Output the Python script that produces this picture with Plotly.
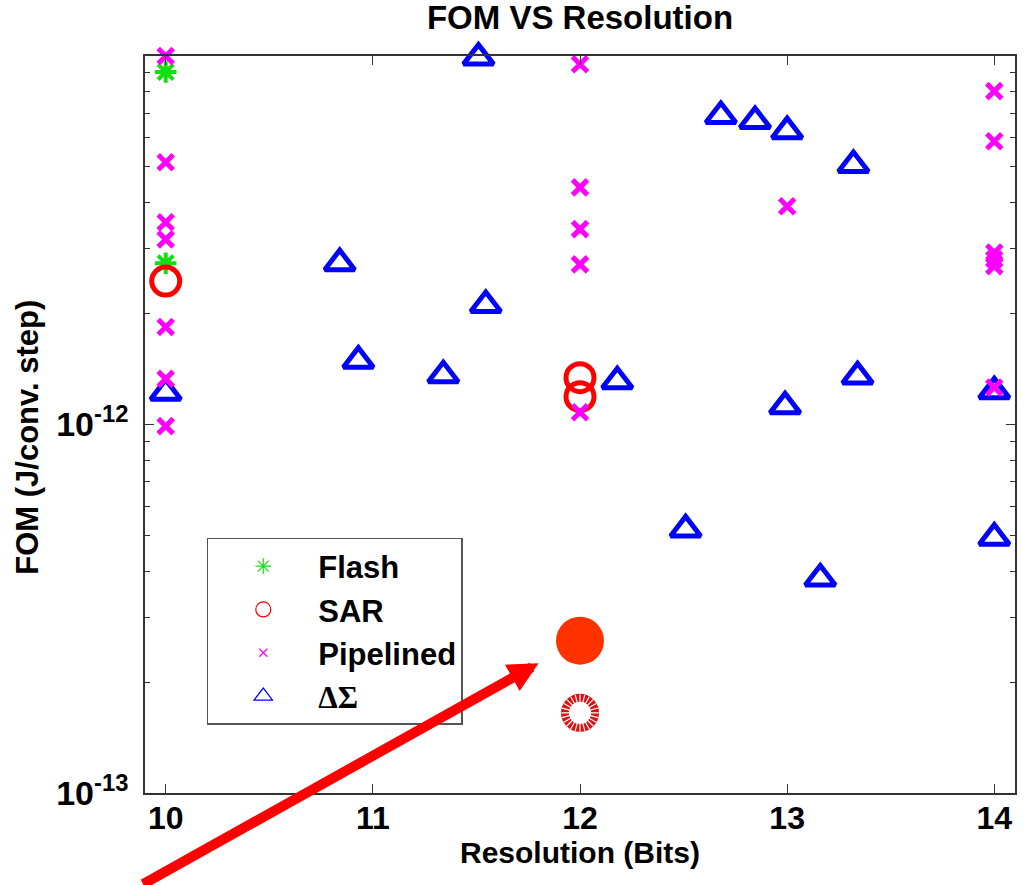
import numpy as np
import plotly.graph_objects as go

# ---------------- data ----------------
FLASH_X = [10, 10]
FLASH_Y = [9.05e-12, 2.74e-12]

SAR_X = [10, 12, 12]
SAR_Y = [2.45e-12, 1.34e-12, 1.19e-12]

PIPE_X = [10, 10, 10, 10, 10, 10, 10,
          12, 12, 12, 12, 12,
          13,
          14, 14, 14, 14, 14, 14]
PIPE_Y = [1.0e-11, 5.15e-12, 3.54e-12, 3.18e-12, 1.84e-12, 1.33e-12, 0.99e-12,
          9.5e-12, 4.4e-12, 3.39e-12, 2.72e-12, 1.08e-12,
          3.91e-12,
          8.03e-12, 5.87e-12, 2.93e-12, 2.81e-12, 2.69e-12, 1.26e-12]

DS_X = [10.0, 10.84, 10.93, 11.34, 11.51, 11.545, 12.18, 12.51, 12.68,
        12.845, 13.0, 12.99, 13.16, 13.32, 13.34, 14.0, 14.0]
DS_Y = [1.22e-12, 2.74e-12, 1.49e-12, 1.36e-12, 9.9e-12, 2.11e-12, 1.31e-12,
        5.19e-13, 6.87e-12, 6.66e-12, 6.25e-12, 1.12e-12, 3.82e-13, 5.06e-12,
        1.35e-12, 1.23e-12, 4.93e-13]

HIGHLIGHT_X = [12]
HIGHLIGHT_Y = [2.59e-13]
HATCHED_X = [12]
HATCHED_Y = [1.65e-13]

X_TICKS = [10, 11, 12, 13, 14]
Y_TICKS = [1e-13, 1e-12]
Y_TICKTEXT = ["10<sup>-13</sup>", "10<sup>-12</sup>"]
Y_MINOR = [2e-13, 3e-13, 4e-13, 5e-13, 6e-13, 7e-13, 8e-13, 9e-13,
           2e-12, 3e-12, 4e-12, 5e-12, 6e-12, 7e-12, 8e-12, 9e-12]

ARROW_TIP = (11.80, 2.25e-13)
ARROW_TAIL_PX = (-397, 225)

FONT = "Liberation Sans, Arial, sans-serif"
GREEN = "#10e010"
RED = "#ff0000"
MAGENTA = "#ff00ff"
BLUE = "#0000ff"


def f(size):
    return dict(family=FONT, size=size, color="black", weight="bold")


fig = go.Figure()

# data traces (drawing order: ΔΣ, Flash, SAR, Pipelined)
fig.add_trace(go.Scatter(x=DS_X, y=DS_Y, mode="markers", showlegend=False, cliponaxis=False,
                         marker=dict(symbol="triangle-up-open", size=26, color=BLUE,
                                     line=dict(color=BLUE, width=5))))
fig.add_trace(go.Scatter(x=FLASH_X, y=FLASH_Y, mode="markers", showlegend=False, cliponaxis=False,
                         marker=dict(symbol="asterisk-open", size=18, color=GREEN,
                                     line=dict(color=GREEN, width=4))))
fig.add_trace(go.Scatter(x=SAR_X, y=SAR_Y, mode="markers", showlegend=False, cliponaxis=False,
                         marker=dict(symbol="circle-open", size=28, color=RED,
                                     line=dict(color=RED, width=5))))
fig.add_trace(go.Scatter(x=PIPE_X, y=PIPE_Y, mode="markers", showlegend=False, cliponaxis=False,
                         marker=dict(symbol="x-thin-open", size=15, color=MAGENTA,
                                     line=dict(color=MAGENTA, width=5))))

# hatched SAR point
fig.add_trace(go.Scatter(x=HATCHED_X, y=HATCHED_Y, mode="markers", showlegend=False, cliponaxis=False,
                         marker=dict(symbol="circle-open", size=30, color="#dd1010",
                                     line=dict(color="#dd1010", width=8))))
for ang in (0, 15, 30):
    fig.add_trace(go.Scatter(x=HATCHED_X, y=HATCHED_Y, mode="markers", showlegend=False,
                             cliponaxis=False,
                             marker=dict(symbol="asterisk-open", size=31, angle=ang, color="white",
                                         line=dict(color="white", width=1.2))))

# highlighted point
fig.add_trace(go.Scatter(x=HIGHLIGHT_X, y=HIGHLIGHT_Y, mode="markers", showlegend=False,
                         cliponaxis=False,
                         marker=dict(symbol="circle", size=48, color="#ff3300",
                                     line=dict(width=0))))

# legend-only entries with thin markers (as in the reference legend)
leg = [("Flash", "asterisk-open", GREEN, 13),
       ("SAR", "circle-open", RED, 15),
       ("Pipelined", "x-thin-open", MAGENTA, 8),
       ("<span style='font-family:Liberation Serif, Times New Roman, serif'>ΔΣ</span>",
        "triangle-up-open", BLUE, 16)]
for name, sym, col, sz in leg:
    fig.add_trace(go.Scatter(x=[None], y=[None], mode="markers", name=name,
                             marker=dict(symbol=sym, size=sz, color=col,
                                         line=dict(color=col, width=1.2))))

fig.add_annotation(x=ARROW_TIP[0], y=np.log10(ARROW_TIP[1]), xref="x", yref="y",
                   ax=ARROW_TAIL_PX[0], ay=ARROW_TAIL_PX[1], axref="pixel", ayref="pixel",
                   text="", showarrow=True, arrowhead=2, arrowsize=0.6, arrowwidth=10,
                   arrowcolor="#ff0000", standoff=0, startstandoff=0)

# y-axis title as a rotated annotation (sits a little below the plot's middle)
fig.add_annotation(text="FOM (J/conv. step)", xref="paper", yref="paper",
                   x=0, xshift=-117, y=0.482, xanchor="center", yanchor="middle",
                   textangle=-90, showarrow=False, font=f(31))

axis_common = dict(showline=True, linecolor="#333333", linewidth=1.5, mirror="ticks",
                   ticks="inside", ticklen=9, tickwidth=1.2, tickcolor="#333333",
                   showgrid=False, zeroline=False)

fig.update_layout(
    width=1028, height=885,
    margin=dict(l=145, r=11, t=56, b=92),
    paper_bgcolor="white", plot_bgcolor="white",
    font=f(31),
    title=dict(text="FOM VS Resolution", x=0.5, xref="paper", xanchor="center",
               y=0.993, yref="container", yanchor="top", font=f(33)),
    xaxis=dict(range=[9.9, 14.1], tickvals=X_TICKS, ticklabelstandoff=-4, tickfont=f(32),
               title=dict(text="Resolution (Bits)", standoff=0, font=f(30)),
               **axis_common),
    yaxis=dict(type="log", range=[-13, -11], tickvals=Y_TICKS, ticktext=Y_TICKTEXT,
               ticklabelstandoff=8, tickfont=f(34),
               minor=dict(ticks="inside", ticklen=5, tickcolor="#333333", tickvals=Y_MINOR),
               **axis_common),
    legend=dict(x=0.071, y=0.346, xanchor="left", yanchor="top",
                bgcolor="white", bordercolor="#555555", borderwidth=1.5,
                itemwidth=100, font=f(31)),
)

fig.write_html("out.html")
